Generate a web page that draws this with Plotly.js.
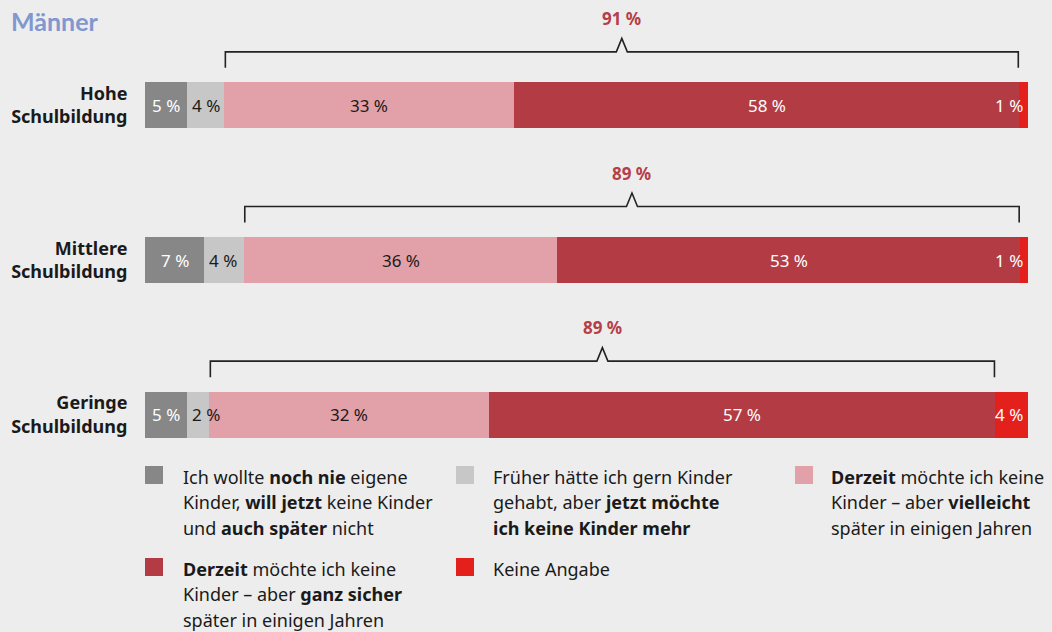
<!DOCTYPE html>
<html>
<head>
<meta charset="utf-8">
<script src="https://cdn.plot.ly/plotly-3.0.1.min.js"></script>
<style>
  html, body { margin: 0; padding: 0; background: #ededed; }
  #chart { width: 1052px; height: 632px; }
</style>
</head>
<body>
<div id="chart"></div>
<script>
// ---------- DATA ----------
var categories = ['Hohe<br>Schulbildung', 'Mittlere<br>Schulbildung', 'Geringe<br>Schulbildung'];
// shares in percent
var nochNie     = [4.8, 6.7, 4.8];
var frueher     = [4.2, 4.5, 2.5];
var vielleicht  = [32.8, 35.5, 31.7];
var ganzSicher  = [57.2, 52.4, 57.3];
var keineAngabe = [1.0, 0.9, 3.7];
// printed labels
var lblNochNie     = [5, 7, 5];
var lblFrueher     = [4, 4, 2];
var lblVielleicht  = [33, 36, 32];
var lblGanzSicher  = [58, 53, 57];
var lblKeineAngabe = [1, 1, 4];
var bracketTotals  = [91, 89, 89];
var legendNochNie     = ['Ich wollte <b>noch nie</b> eigene', 'Kinder, <b>will jetzt</b> keine Kinder', 'und <b>auch später</b> nicht'];
var legendFrueher     = ['Früher hätte ich gern Kinder', 'gehabt, aber <b>jetzt möchte</b>', '<b>ich keine Kinder mehr</b>'];
var legendVielleicht  = ['<b>Derzeit</b> möchte ich keine', 'Kinder – aber <b>vielleicht</b>', 'später in einigen Jahren'];
var legendGanzSicher  = ['<b>Derzeit</b> möchte ich keine', 'Kinder – aber <b>ganz sicher</b>', 'später in einigen Jahren'];
var legendKeineAngabe = ['Keine Angabe'];
var titleText = 'Männer';

// ---------- STYLE ----------
var FONT = '"Noto Sans", Lato, sans-serif';
var TITLE_FONT = 'Lato, "Noto Sans", sans-serif';
var BG = '#ededed';
var TXT = '#1a1a1a';
var colors = ['#878787', '#c6c7c6', '#e2a0a8', '#b33c44', '#e3201b'];
var textColors = ['#ffffff', TXT, TXT, '#ffffff', '#ffffff'];
var anchors = ['middle', 'start', 'middle', 'middle', 'end'];
var L = 145, R = 24, T = 28, B = 140, W = 1052, H = 632;
var plotW = W - L - R, plotH = H - T - B;
var pxPerY = plotH / 3;         // y range is 3 units
var pxPerX = plotW / 100;

var yIdx = categories.map(function (c, i) { return i; });

var series = [
  {v: nochNie,     l: lblNochNie},
  {v: frueher,     l: lblFrueher},
  {v: vielleicht,  l: lblVielleicht},
  {v: ganzSicher,  l: lblGanzSicher},
  {v: keineAngabe, l: lblKeineAngabe}
];
var legends = [legendNochNie, legendFrueher, legendVielleicht, legendGanzSicher, legendKeineAngabe];

var traces = series.map(function (s, k) {
  return {
    type: 'bar',
    orientation: 'h',
    x: s.v,
    y: yIdx,
    width: 0.297,
    marker: {color: colors[k], line: {width: 0}},
    textposition: 'none',
    hoverinfo: 'none',
    showlegend: false
  };
});

var shapes = [];
var annotations = [];

// ---------- SEGMENT LABELS ----------
yIdx.forEach(function (i) {
  var start = 0;
  series.forEach(function (s, k) {
    var v = s.v[i];
    var a = {
      xref: 'x', yref: 'y', y: i, yanchor: 'middle',
      text: s.l[i] + ' %', showarrow: false,
      font: {family: FONT, size: 17, color: textColors[k]}
    };
    if (anchors[k] === 'start') { a.x = start; a.xanchor = 'left'; a.xshift = 3; }
    else if (anchors[k] === 'end') { a.x = start + v; a.xanchor = 'right'; a.xshift = -3; }
    else { a.x = start + v / 2; a.xanchor = 'center'; }
    annotations.push(a);
    start += v;
  });
});

// ---------- BRACKETS ----------
var yLineOff = 53.5 / pxPerY, yTickOff = 37.5 / pxPerY, yPeakOff = 67 / pxPerY;
var dx = 5.5 / pxPerX;
yIdx.forEach(function (i) {
  var xs = nochNie[i] + frueher[i] + 0.1;
  var xe = xs + vielleicht[i] + ganzSicher[i] - 0.2;
  var xm = (xs + xe) / 2;
  var yl = i - yLineOff, yt = i - yTickOff, yp = i - yPeakOff;
  shapes.push({
    type: 'path', xref: 'x', yref: 'y',
    path: 'M' + xs + ',' + yt + ' L' + xs + ',' + yl + ' L' + (xm - dx) + ',' + yl +
          ' L' + xm + ',' + yp + ' L' + (xm + dx) + ',' + yl + ' L' + xe + ',' + yl +
          ' L' + xe + ',' + yt,
    line: {color: '#222222', width: 1.6}
  });
  annotations.push({
    x: xm, y: i, xref: 'x', yref: 'y', yshift: 87,
    text: '<b>' + bracketTotals[i] + ' %</b>',
    showarrow: false, xanchor: 'center', yanchor: 'middle',
    font: {family: FONT, size: 17, color: '#b53e47'}
  });
});

// ---------- LEGEND (custom) ----------
function px2x(px) { return (px - L) / plotW; }
function px2y(py) { return (H - B - py) / plotH; }
var legendPos = [
  {sx: 145, sy: 466, tx: 181, ty: 477},
  {sx: 456, sy: 466, tx: 491, ty: 477},
  {sx: 795, sy: 466, tx: 829, ty: 477},
  {sx: 145, sy: 558, tx: 181, ty: 569},
  {sx: 456, sy: 558, tx: 491, ty: 569}
];
legends.forEach(function (lines, k) {
  var p = legendPos[k];
  shapes.push({
    type: 'rect', xref: 'paper', yref: 'paper',
    x0: px2x(p.sx), x1: px2x(p.sx + 18), y0: px2y(p.sy), y1: px2y(p.sy + 18),
    fillcolor: colors[k], line: {width: 0}
  });
  lines.forEach(function (t, j) {
    annotations.push({
      xref: 'paper', yref: 'paper',
      x: px2x(p.tx), y: px2y(p.ty + j * 25.3),
      xanchor: 'left', yanchor: 'middle', align: 'left',
      text: t, showarrow: false,
      font: {family: FONT, size: 18, color: TXT}
    });
  });
});

var layout = {
  width: W, height: H,
  paper_bgcolor: BG, plot_bgcolor: BG,
  margin: {l: L, r: R, t: T, b: B, pad: 0},
  barmode: 'stack',
  bargap: 0,
  font: {family: FONT, color: TXT},
  title: {
    text: '<b>' + titleText + '</b>',
    x: 11 / W, xanchor: 'left', xref: 'container',
    y: 1 - 22 / H, yanchor: 'middle', yref: 'container',
    font: {family: TITLE_FONT, size: 25, color: '#8197cf'}
  },
  xaxis: {range: [0, 100], visible: false, fixedrange: true},
  yaxis: {
    range: [2.5, -0.5],
    tickmode: 'array', tickvals: yIdx, ticktext: categories,
    ticks: 'outside', ticklen: 13, tickcolor: 'rgba(0,0,0,0)',
    showgrid: false, zeroline: false, showline: false, fixedrange: true,
    tickfont: {family: FONT, size: 18, color: TXT, weight: 700}
  },
  shapes: shapes,
  annotations: annotations,
  showlegend: false
};

Plotly.newPlot('chart', traces, layout, {displayModeBar: false, staticPlot: true});
</script>
</body>
</html>
